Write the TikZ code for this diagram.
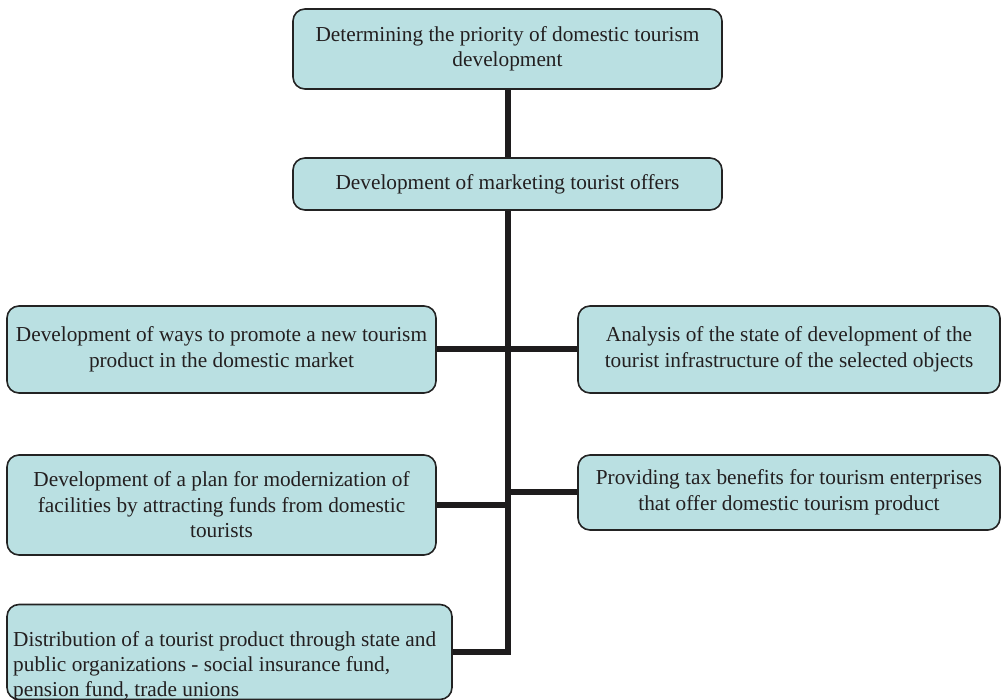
\documentclass[tikz,border=0pt]{standalone}
\usepackage{fontspec}
\setmainfont{Liberation Serif}
\definecolor{boxfill}{RGB}{186,224,226}
\definecolor{boxline}{RGB}{35,35,35}
\definecolor{connline}{RGB}{30,28,29}
\definecolor{txt}{RGB}{35,31,32}
\begin{document}
\begin{tikzpicture}[x=1pt,y=-1pt,
  box/.style={draw=boxline, line width=1.6pt, fill=boxfill, rounded corners=12pt,
    inner sep=0pt, align=center, text=txt,
    font=\fontsize{21.3}{25.5}\selectfont},
  conn/.style={draw=connline, line width=6pt, line join=miter},
  plain/.style={inner sep=0pt, align=left, text=txt, font=\fontsize{21.3}{25}\selectfont}]
\useasboundingbox (0,0) rectangle (1002,700);
% boxes
\node[box, minimum width=429, minimum height=80] (top) at (507.5,49) {Determining the priority of domestic tourism\\development};
\node[box, minimum width=429, minimum height=52] (mkt) at (507.5,184) {Development of marketing tourist offers};
\node[box, minimum width=429, minimum height=87] (l1) at (221.5,349.5) {Development of ways to promote a new tourism\\product in the domestic market};
\node[box, minimum width=422, minimum height=87] (r1) at (789,349.5) {Analysis of the state of development of the\\tourist infrastructure of the selected objects};
\node[box, minimum width=429, minimum height=100] (l2) at (221.5,505) {Development of a plan for modernization of\\facilities by attracting funds from domestic\\tourists};
\node[box, minimum width=422, minimum height=75] (r2) at (789,492.5) {Providing tax benefits for tourism enterprises\\that offer domestic tourism product};
\node[box, minimum width=445, minimum height=95] (l3) at (229.5,652) {};
\node[plain, anchor=north west] (l3t) at (13,631) {Distribution of a tourist product through state and\\public organizations - social insurance fund,\\pension fund, trade unions};
% connectors
\coordinate (bot) at (l3.east -| mkt.south);
\draw[conn] (top.south) -- (mkt.north);
\draw[conn] (mkt.south) -- (bot) -- (l3.east);
\draw[conn] (l1.east) -- (r1.west);
\draw[conn] (l2.east) -- (l2.east -| mkt.south);
\draw[conn] (r2.west) -- (r2.west -| mkt.south);
\end{tikzpicture}
\end{document}
